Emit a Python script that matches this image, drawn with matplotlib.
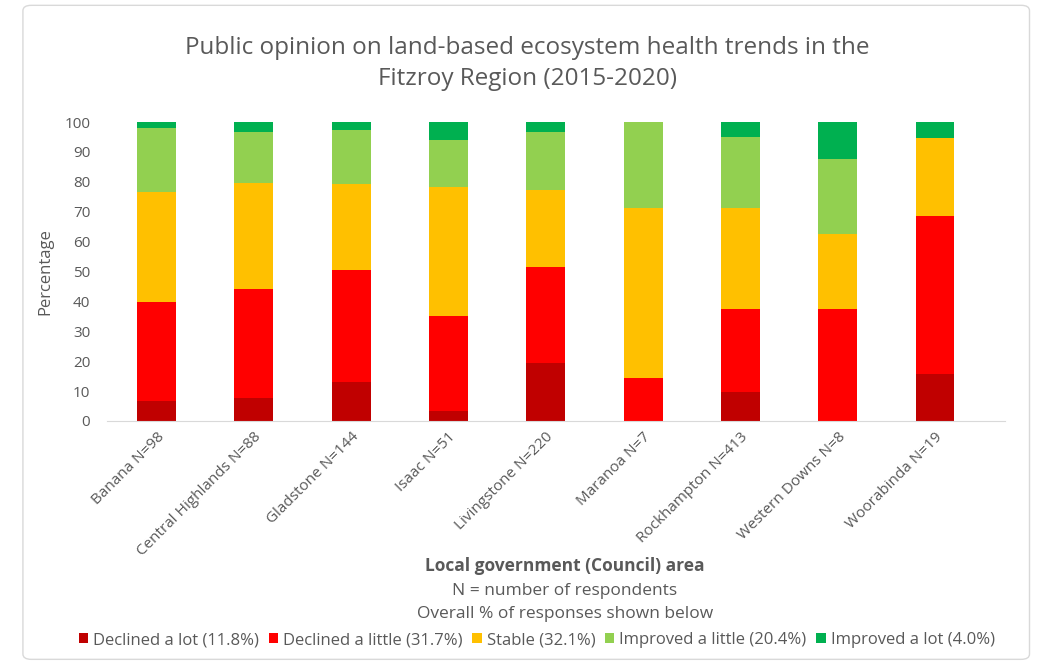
import numpy as np
import matplotlib
matplotlib.use('Agg')
import matplotlib.pyplot as plt
from matplotlib.patches import FancyBboxPatch

plt.rcParams['font.family'] = ['Open Sans', 'DejaVu Sans']

# data (percent of respondents)
councils = ['Banana N=98', 'Central Highlands N=88', 'Gladstone N=144', 'Isaac N=51',
            'Livingstone N=220', 'Maranoa N=7', 'Rockhampton N=413', 'Western Downs N=8',
            'Woorabinda N=19']
declined_lot = [6.7, 7.8, 13.1, 3.3, 19.5, 0, 9.7, 0, 15.8]
declined_little = [33.0, 36.5, 37.5, 31.7, 32.1, 14.3, 27.9, 37.5, 52.6]
stable = [36.8, 35.3, 28.5, 43.2, 25.7, 57.1, 33.8, 25.0, 26.3]
improved_little = [21.4, 17.1, 18.2, 15.9, 19.5, 28.6, 23.6, 25.0, 0]
improved_lot = [2.1, 3.3, 2.7, 5.9, 3.2, 0, 5.0, 12.5, 5.3]

series_names = ['Declined a lot (11.8%)', 'Declined a little (31.7%)', 'Stable (32.1%)',
                'Improved a little (20.4%)', 'Improved a lot (4.0%)']
colors = ['#C00000', '#FF0000', '#FFC000', '#92D050', '#00B050']
series = [declined_lot, declined_little, stable, improved_little, improved_lot]

grey = '#595959'

fig = plt.figure(figsize=(10.42, 6.66), dpi=100)
ax = fig.add_axes([0.1027, 0.3679, 0.8618, 0.4489])

# chart border
border = FancyBboxPatch((0.022, 0.01), 0.966, 0.982, boxstyle='round,pad=0,rounding_size=0.008',
                        transform=fig.transFigure, fill=False, edgecolor='#D9D9D9', linewidth=1)
fig.patches.append(border)

x = np.arange(len(councils))
bottom = np.zeros(len(councils))
for vals, name, col in zip(series, series_names, colors):
    ax.bar(x, vals, width=0.4, bottom=bottom, color=col, label=name)
    bottom += np.array(vals)

ax.set_ylim(0, 100)
ax.set_xlim(-0.51, 8.72)
ax.set_yticks(range(0, 101, 10))
ax.set_xticks(x)
ax.set_xticklabels(councils, rotation=45, ha='right', rotation_mode='anchor')
ax.tick_params(axis='both', length=0, labelsize=11, colors=grey, pad=6)
ax.tick_params(axis='y', pad=12)
for s in ['top', 'right', 'left']:
    ax.spines[s].set_visible(False)
ax.spines['bottom'].set_color('#D9D9D9')
ax.set_ylabel('Percentage', fontsize=12, color=grey, labelpad=8)

fig.text(0.506, 0.928, 'Public opinion on land-based ecosystem health trends in the',
         ha='center', va='center', fontsize=17.5, color=grey)
fig.text(0.506, 0.881, 'Fitzroy Region (2015-2020)',
         ha='center', va='center', fontsize=17.5, color=grey)

fig.text(0.542, 0.150, 'Local government (Council) area', ha='center', va='center',
         fontsize=12.5, fontweight='bold', color=grey)
fig.text(0.542, 0.112, 'N = number of respondents', ha='center', va='center',
         fontsize=12.5, color=grey)
fig.text(0.542, 0.078, 'Overall % of responses shown below', ha='center', va='center',
         fontsize=12.5, color=grey)

fig.legend(loc='center', bbox_to_anchor=(0.515, 0.039), ncol=5, frameon=False,
           fontsize=12, handlelength=0.55, handleheight=0.55, handletextpad=0.3,
           columnspacing=0.6, labelcolor=grey)

fig.savefig('out.png', dpi=100)
